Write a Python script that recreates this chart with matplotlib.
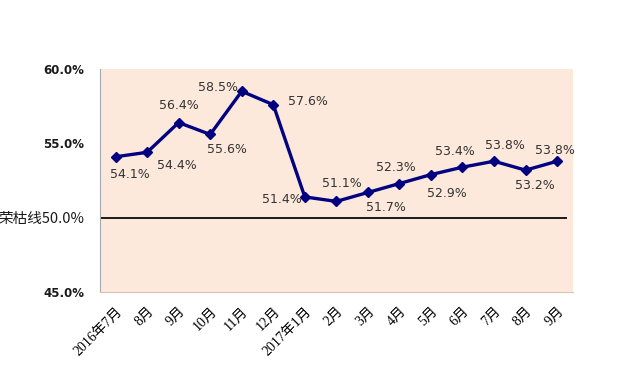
import numpy as np
import matplotlib
matplotlib.use("Agg")
from matplotlib import pyplot as plt

plt.rcParams['font.family'] = ['Noto Sans CJK SC', 'DejaVu Sans']

months = ["2016年7月", "8月", "9月", "10月", "11月", "12月", "2017年1月",
          "2月", "3月", "4月", "5月", "6月", "7月", "8月", "9月"]
pmi = [54.1, 54.4, 56.4, 55.6, 58.5, 57.6, 51.4, 51.1, 51.7, 52.3, 52.9, 53.4, 53.8, 53.2, 53.8]
yticks = [45, 50, 55, 60]
ylabels = ["45.0%", "荣枯线50.0%", "55.0%", "60.0%"]

# 数据标签相对数据点的偏移（像素，右/上为正）
label_off = [(14, -18), (30, -13), (0, 17), (17, -15), (-24, 4), (35, 3), (-23, -3),
             (6, 18), (18, -15), (-4, 16), (16, -19), (-8, 16), (11, 16), (9, -15), (-2, 11)]

fig = plt.figure(figsize=(6.2, 3.67), dpi=100)
ax = fig.add_axes([0.161, 0.204, 0.763, 0.608])
ax.set_facecolor("#FDE9DB")

x = np.arange(len(months))
ax.axhline(50, xmin=0, xmax=0.985, color="#1a1a1a", lw=1.4, zorder=2)
ax.plot(x, pmi, color="#000080", lw=2.4, marker="D", ms=5, zorder=3)

for xi, v, (dx, dy) in zip(x, pmi, label_off):
    ax.annotate(f"{v:.1f}%", (xi, v), xytext=(dx, dy), textcoords="offset pixels",
                ha="center", va="center", fontsize=9, color="#333333", family="DejaVu Sans")

ax.set_xlim(-0.5, 14.5)
ax.set_ylim(45, 60)
ax.set_yticks(yticks)
ax.set_yticklabels(ylabels)
for t in ax.get_yticklabels():
    t.set_color("#1a1a1a")
    if "荣" in t.get_text():
        t.set_fontsize(10.5)
    else:
        t.set_fontsize(8.5)
        t.set_fontweight("bold")
        t.set_family("DejaVu Sans")
ax.tick_params(axis="y", length=0, pad=11)
ax.set_xticks(x)
ax.set_xticklabels(months, rotation=45, ha="right", rotation_mode="anchor",
                   fontsize=10, family=["Liberation Serif", "Noto Sans CJK SC"])
ax.tick_params(axis="x", length=0, pad=9)

for s in ["top", "right"]:
    ax.spines[s].set_visible(False)
ax.spines["left"].set_color("#aaaaaa")
ax.spines["bottom"].set_color("#d8c4b8")

fig.savefig("out.png", dpi=100)
